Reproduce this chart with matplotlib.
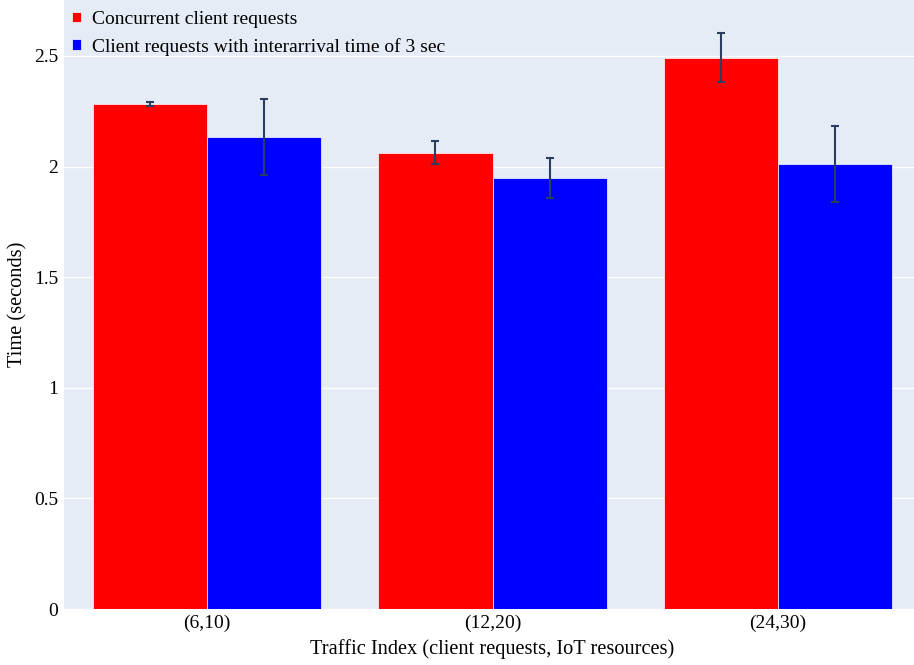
import matplotlib.pyplot as plt
import numpy as np

categories = ['(6,10)', '(12,20)', '(24,30)']
concurrent = [2.283, 2.062, 2.492]
concurrent_err = [0.011, 0.052, 0.111]
interarrival = [2.134, 1.950, 2.012]
interarrival_err = [0.172, 0.090, 0.172]
labels = ['Concurrent client requests', 'Client requests with interarrival time of 3 sec']

plt.rcParams['font.family'] = ['Liberation Serif', 'DejaVu Serif']

fig = plt.figure(figsize=(9.14, 6.65), dpi=100)
ax = fig.add_axes([64 / 914, 1 - 609 / 665, 857 / 914, 609 / 665])
ax.set_facecolor('#E5ECF6')

x = np.arange(len(categories))
w = 0.4
err_kw = dict(ecolor='#2a3f5f', elinewidth=1.5, capsize=3, capthick=1.5)
ax.bar(x - w / 2, concurrent, w, yerr=concurrent_err, color='red',
       edgecolor='white', linewidth=0.5, error_kw=err_kw, label=labels[0], zorder=3)
ax.bar(x + w / 2, interarrival, w, yerr=interarrival_err, color='blue',
       edgecolor='white', linewidth=0.5, error_kw=err_kw, label=labels[1], zorder=3)

ax.set_xlim(-0.5, 2.5)
ax.set_ylim(0, 2.753)
ax.set_xticks(x)
ax.set_xticklabels(categories)
ax.set_yticks([0, 0.5, 1, 1.5, 2, 2.5])
ax.set_yticklabels(['0', '0.5', '1', '1.5', '2', '2.5'])
ax.grid(axis='y', color='white', linewidth=1, zorder=0)
ax.set_axisbelow(True)
for s in ax.spines.values():
    s.set_visible(False)
ax.tick_params(length=0, labelsize=14, colors='black', pad=4)
ax.set_xlabel('Traffic Index (client requests, IoT resources)', fontsize=14.7, labelpad=5)
ax.set_ylabel('Time (seconds)', fontsize=14.7, labelpad=5)

leg = ax.legend(loc='upper left', bbox_to_anchor=(8 / 857, 1 - 11 / 609), frameon=False,
                fontsize=14, handlelength=0.45, handleheight=0.45, handletextpad=0.6,
                labelspacing=0.5, borderaxespad=0, borderpad=0)

fig.savefig('out.png', dpi=100)
